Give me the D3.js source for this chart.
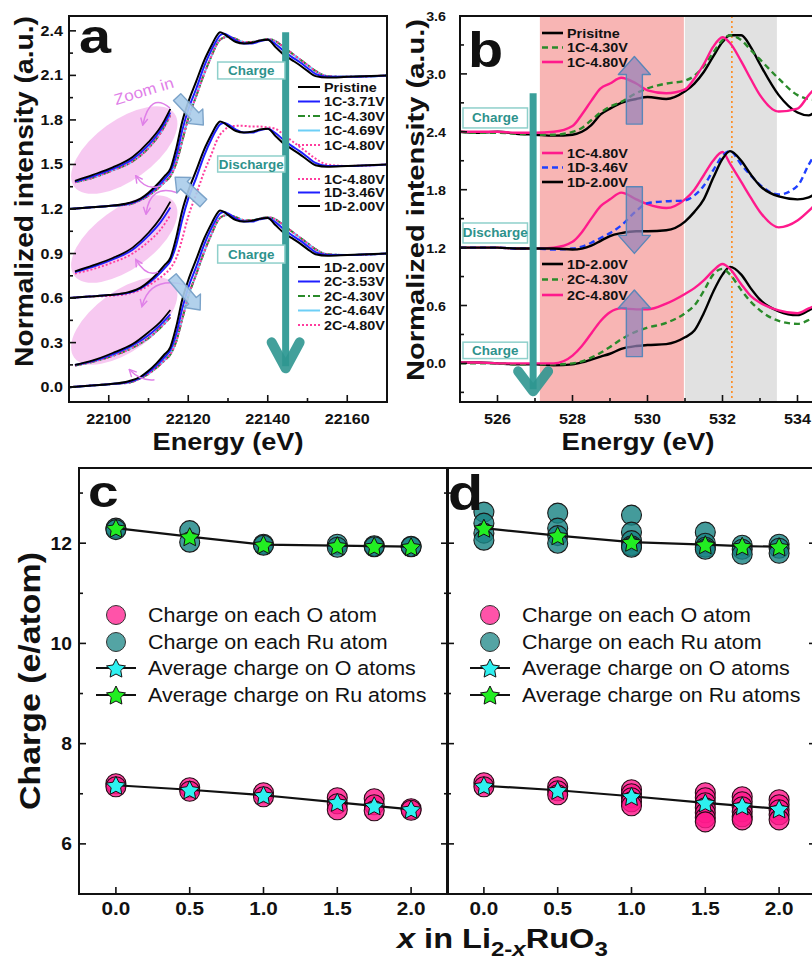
<!DOCTYPE html>
<html lang="en">
<head>
<meta charset="UTF-8">
<title>XANES spectra and Bader charges</title>
<script src="https://d3js.org/d3.v7.min.js"></script>
<style>
  body { margin: 0; background: #fff; }
  svg { display: block; }
</style>
</head>
<body>
<svg width="812" height="962"></svg>
<script>
// ---------- panel a : Ru K-edge XANES (relative shapes, offset per group) ----------
const aE = [22090, 22095, 22100, 22105, 22108, 22110, 22112, 22114, 22115.5, 22117, 22118.5, 22120, 22122, 22124, 22126, 22127, 22128, 22129, 22130, 22132, 22134, 22136, 22138, 22140, 22142, 22144, 22146, 22148, 22150, 22152, 22155, 22160, 22170];
const aPristineShape = [0.00, 0.01, 0.02, 0.04, 0.07, 0.11, 0.16, 0.22, 0.27, 0.41, 0.59, 0.72, 0.86, 1.00, 1.11, 1.16, 1.19, 1.18, 1.16, 1.125, 1.115, 1.12, 1.135, 1.14, 1.09, 1.04, 1.005, 0.97, 0.93, 0.895, 0.885, 0.89, 0.90];
const aEarlyShape = [0.00, 0.01, 0.02, 0.035, 0.065, 0.10, 0.145, 0.20, 0.25, 0.36, 0.53, 0.67, 0.81, 0.96, 1.08, 1.13, 1.17, 1.18, 1.17, 1.135, 1.115, 1.115, 1.13, 1.14, 1.11, 1.065, 1.025, 0.99, 0.95, 0.91, 0.89, 0.89, 0.90];
const aLateShape = [0.00, 0.01, 0.02, 0.03, 0.06, 0.09, 0.13, 0.18, 0.22, 0.31, 0.46, 0.61, 0.76, 0.91, 1.04, 1.10, 1.14, 1.155, 1.16, 1.145, 1.125, 1.125, 1.135, 1.145, 1.13, 1.09, 1.05, 1.01, 0.97, 0.93, 0.895, 0.89, 0.90];
const aDischargeLateShape = [0.00, 0.01, 0.015, 0.03, 0.055, 0.085, 0.12, 0.16, 0.20, 0.27, 0.40, 0.55, 0.70, 0.85, 0.98, 1.05, 1.10, 1.13, 1.15, 1.16, 1.16, 1.155, 1.155, 1.15, 1.14, 1.10, 1.06, 1.02, 0.98, 0.94, 0.90, 0.89, 0.90];
const aGroupOffset = [1.2, 0.6, 0];
const aLegendCharge1 = ["Pristine", "1C-3.71V", "1C-4.30V", "1C-4.69V", "1C-4.80V"];
const aLegendDischarge1 = ["1C-4.80V", "1D-3.46V", "1D-2.00V"];
const aLegendCharge2 = ["1D-2.00V", "2C-3.53V", "2C-4.30V", "2C-4.64V", "2C-4.80V"];

// zoomed pre-edge insets (absolute values)
const aInsetE = [22091.5, 22096, 22101, 22106, 22110, 22113, 22115.5];
const aInset1Black = [1.39, 1.43, 1.48, 1.55, 1.65, 1.75, 1.875];
const aInset1Blue = [1.385, 1.42, 1.47, 1.535, 1.63, 1.73, 1.85];
const aInset1Late = [1.38, 1.41, 1.46, 1.52, 1.61, 1.71, 1.83];
const aInset2Black = [0.78, 0.82, 0.87, 0.94, 1.04, 1.14, 1.25];
const aInset2Blue = [0.775, 0.81, 0.86, 0.925, 1.02, 1.11, 1.21];
const aInset2Late = [0.765, 0.795, 0.84, 0.90, 0.98, 1.06, 1.16];
const aInset3Black = [0.15, 0.18, 0.23, 0.29, 0.37, 0.44, 0.52];
const aInset3Blue = [0.15, 0.175, 0.22, 0.28, 0.35, 0.42, 0.49];
const aInset3Late = [0.145, 0.17, 0.21, 0.265, 0.33, 0.40, 0.47];

const aXTicks = [22100, 22120, 22140, 22160];
const aXMinor = [22090, 22110, 22130, 22150, 22170];
const aYTicks = [0, 0.3, 0.6, 0.9, 1.2, 1.5, 1.8, 2.1, 2.4];
const aYMinor = [0.15, 0.45, 0.75, 1.05, 1.35, 1.65, 1.95, 2.25];

// ---------- panel b : O K-edge ----------
const bE = [525, 525.5, 526, 526.5, 527, 527.5, 528, 528.25, 528.5, 528.75, 529, 529.3, 529.7, 530, 530.5, 531, 531.25, 531.5, 531.75, 532, 532.2, 532.5, 532.75, 533, 533.5, 534, 534.3, 534.6, 535, 535.5];
const bPristine = [2.40, 2.39, 2.40, 2.38, 2.37, 2.36, 2.37, 2.40, 2.47, 2.58, 2.64, 2.70, 2.74, 2.76, 2.74, 2.82, 2.90, 3.02, 3.18, 3.33, 3.40, 3.40, 3.28, 3.10, 2.78, 2.60, 2.57, 2.66, 2.80, 2.95];
const bC1430 = [2.40, 2.39, 2.39, 2.38, 2.37, 2.37, 2.40, 2.44, 2.52, 2.60, 2.66, 2.71, 2.80, 2.85, 2.90, 2.93, 2.98, 3.08, 3.22, 3.35, 3.40, 3.35, 3.25, 3.15, 2.95, 2.78, 2.74, 2.73, 2.76, 2.80];
const bC1480 = [2.40, 2.40, 2.40, 2.39, 2.39, 2.40, 2.46, 2.58, 2.72, 2.85, 2.90, 2.96, 2.90, 2.83, 2.80, 2.84, 2.95, 3.10, 3.28, 3.38, 3.32, 3.13, 2.95, 2.78, 2.61, 2.64, 2.78, 2.90, 3.00, 3.10];
const bD1480 = [1.20, 1.20, 1.20, 1.19, 1.19, 1.20, 1.26, 1.36, 1.50, 1.63, 1.70, 1.77, 1.70, 1.65, 1.61, 1.70, 1.80, 1.95, 2.10, 2.19, 2.07, 1.88, 1.72, 1.57, 1.41, 1.48, 1.58, 1.70, 1.82, 1.92];
const bD1346 = [1.20, 1.20, 1.20, 1.19, 1.19, 1.18, 1.19, 1.21, 1.25, 1.30, 1.35, 1.43, 1.58, 1.66, 1.68, 1.69, 1.74, 1.84, 2.00, 2.15, 2.20, 2.06, 1.95, 1.85, 1.75, 1.84, 2.06, 2.25, 2.45, 2.60];
const bD1200 = [1.20, 1.20, 1.20, 1.19, 1.19, 1.19, 1.18, 1.19, 1.22, 1.27, 1.32, 1.35, 1.37, 1.37, 1.38, 1.47, 1.57, 1.70, 1.92, 2.12, 2.20, 2.10, 1.96, 1.84, 1.73, 1.70, 1.72, 1.80, 1.92, 2.05];
const bC2200 = [0.01, 0.01, 0.00, -0.01, -0.01, -0.02, -0.01, 0.01, 0.04, 0.07, 0.10, 0.15, 0.18, 0.19, 0.20, 0.27, 0.34, 0.52, 0.74, 0.92, 1.00, 0.92, 0.78, 0.66, 0.54, 0.50, 0.55, 0.62, 0.70, 0.80];
const bC2430 = [0.00, 0.00, 0.00, -0.01, -0.01, -0.01, 0.00, 0.02, 0.06, 0.11, 0.17, 0.25, 0.33, 0.37, 0.42, 0.52, 0.60, 0.75, 0.92, 0.98, 0.92, 0.76, 0.64, 0.55, 0.44, 0.41, 0.45, 0.52, 0.60, 0.70];
const bC2480 = [0.01, 0.01, 0.00, 0.00, 0.00, 0.00, 0.08, 0.18, 0.31, 0.44, 0.53, 0.57, 0.56, 0.56, 0.62, 0.72, 0.78, 0.86, 0.96, 1.03, 0.98, 0.82, 0.70, 0.63, 0.55, 0.52, 0.57, 0.62, 0.70, 0.80];
const bLegend1 = ["Prisitne", "1C-4.30V", "1C-4.80V"];
const bLegend2 = ["1C-4.80V", "1D-3.46V", "1D-2.00V"];
const bLegend3 = ["1D-2.00V", "2C-4.30V", "2C-4.80V"];
const bPinkBand = [527.13, 530.97];
const bGreyBand = [530.97, 533.45];
const bPeakLine = 532.25;

const bXTicks = [526, 528, 530, 532, 534];
const bXMinor = [525, 527, 529, 531, 533, 535];
const bYTicks = [0, 0.6, 1.2, 1.8, 2.4, 3.0, 3.6];
const bYMinor = [-0.3, 0.3, 0.9, 1.5, 2.1, 2.7, 3.3];

// ---------- panels c, d : Bader charges ----------
const cX = [0, 0.5, 1.0, 1.5, 1.75, 2.0];
const cRuAvg = [12.30, 12.13, 11.97, 11.95, 11.94, 11.93];
const cOAvg = [7.17, 7.08, 6.97, 6.83, 6.76, 6.69];
const cRuEach = [[12.30, 12.27], [12.25, 12.02], [11.98, 11.96], [11.98, 11.92], [11.95, 11.93], [11.94, 11.93]];
const cOEach = [[7.20, 7.14], [7.12, 7.05], [7.02, 6.94], [6.92, 6.80, 6.68], [6.90, 6.78, 6.66], [6.70, 6.67]];

const dRuAvg = [12.30, 12.15, 12.02, 11.97, 11.94, 11.93];
const dOAvg = [7.16, 7.07, 6.95, 6.82, 6.76, 6.70];
const dRuEach = [[12.62, 12.40, 12.20, 12.06], [12.60, 12.30, 12.15, 12.00], [12.56, 12.22, 12.05, 11.95, 11.92], [12.22, 12.00, 11.92, 11.88], [11.96, 11.88, 11.78], [11.98, 11.90, 11.80]];
const dOEach = [[7.22, 7.14], [7.14, 7.06, 6.98], [7.08, 7.00, 6.92, 6.84, 6.76], [7.02, 6.92, 6.82, 6.72, 6.62, 6.52, 6.44], [6.94, 6.84, 6.74, 6.64, 6.54, 6.48], [6.88, 6.78, 6.68, 6.58, 6.48]];
const chargeLegend = ["Charge on each O atom", "Charge on each Ru atom", "Average charge on O atoms", "Average charge on Ru atoms"];

const cXTicks = [0, 0.5, 1.0, 1.5, 2.0];
const cYTicks = [6, 8, 10, 12];
const cYMinor = [7, 9, 11, 13];

// ---------- drawing ----------
const svg = d3.select("svg")
  .attr("font-family", '"Liberation Sans", Arial, Helvetica, sans-serif');
svg.append("rect").attr("width", 812).attr("height", 962).attr("fill", "#fff");

const TEAL = "#3a9f9a";

function label(g, x, y, s, o = {}) {
  const holder = g.append("g")
    .attr("transform", `translate(${x},${y})` + (o.rot ? ` rotate(${o.rot})` : ""));
  const t = holder.append("text")
    .attr("text-anchor", o.anchor || "start")
    .attr("font-size", o.size || 14)
    .attr("font-weight", o.weight || "bold")
    .attr("fill", o.fill || "#111")
    .text(s);
  let sx = o.sx || 1.15;
  if (o.len) sx = o.len / t.node().getComputedTextLength();
  t.attr("transform", `scale(${sx},1)`);
  return t;
}

function tickLines(g, vals, scale, axis, at, len) {
  g.append("g").selectAll("line").data(vals).join("line")
    .attr("x1", d => axis === "x" ? scale(d) : at)
    .attr("x2", d => axis === "x" ? scale(d) : at + len)
    .attr("y1", d => axis === "x" ? at : scale(d))
    .attr("y2", d => axis === "x" ? at - len : scale(d))
    .attr("stroke", "#111").attr("stroke-width", 1.6);
}

function blockArrow(g, p0, p1, sw, hw, hl, fill, stroke) {
  const dx = p1[0] - p0[0], dy = p1[1] - p0[1], L = Math.hypot(dx, dy);
  const ux = dx / L, uy = dy / L, nx = -uy, ny = ux;
  const bx = p1[0] - ux * hl, by = p1[1] - uy * hl;
  const pts = [
    [p0[0] + nx * sw / 2, p0[1] + ny * sw / 2],
    [bx + nx * sw / 2, by + ny * sw / 2],
    [bx + nx * hw / 2, by + ny * hw / 2],
    p1,
    [bx - nx * hw / 2, by - ny * hw / 2],
    [bx - nx * sw / 2, by - ny * sw / 2],
    [p0[0] - nx * sw / 2, p0[1] - ny * sw / 2]
  ];
  g.append("polygon").attr("points", pts.map(p => p.join(",")).join(" "))
    .attr("fill", fill).attr("stroke", stroke).attr("stroke-width", 1.4)
    .attr("stroke-linejoin", "round");
}

function tealArrow(g, x, yTop, yTip, hw, hh) {
  g.append("line").attr("x1", x).attr("x2", x).attr("y1", yTop).attr("y2", yTip - 6)
    .attr("stroke", TEAL).attr("stroke-width", 7);
  g.append("polyline")
    .attr("points", `${x - hw},${yTip - hh} ${x},${yTip - 4} ${x + hw},${yTip - hh}`)
    .attr("fill", "none").attr("stroke", "#2f9690").attr("stroke-width", 10)
    .attr("stroke-linejoin", "round").attr("stroke-linecap", "round").attr("opacity", 0.9);
}

function stateBox(g, x0, x1, y0, y1, s) {
  g.append("rect").attr("x", x0).attr("y", y0).attr("width", x1 - x0).attr("height", y1 - y0)
    .attr("fill", "#fff").attr("stroke", "#8fd0cb").attr("stroke-width", 1.5);
  label(g, (x0 + x1) / 2, (y0 + y1) / 2 + 4.5, s, { anchor: "middle", size: 12, fill: "#2e928c", sx: 1.12 });
}

const defs = svg.append("defs");
defs.append("clipPath").attr("id", "clipA").append("rect")
  .attr("x", 69).attr("y", 16).attr("width", 318).attr("height", 386);
defs.append("clipPath").attr("id", "clipB").append("rect")
  .attr("x", 460).attr("y", 16).attr("width", 400).attr("height", 386);
defs.append("marker").attr("id", "vio").attr("viewBox", "0 0 10 10")
  .attr("refX", 8).attr("refY", 5).attr("markerWidth", 6).attr("markerHeight", 6)
  .attr("orient", "auto")
  .append("path").attr("d", "M1,1 L9,5 L1,9").attr("fill", "none")
  .attr("stroke", "#df80e8").attr("stroke-width", 1.6);

// ================= panel a =================
const xA = d3.scaleLinear().domain([22090, 22170]).range([69, 387]);
const yA = d3.scaleLinear().domain([-0.1, 2.5]).range([402, 16]);
const gA = svg.append("g");
const plotA = gA.append("g").attr("clip-path", "url(#clipA)");

const aStyles = {
  black: { color: "#000000", dash: null },
  blue: { color: "#1f1fff", dash: null },
  green: { color: "#2a8a2a", dash: "7,3,2,3" },
  cyan: { color: "#6dcff6", dash: null },
  pink: { color: "#ff3d9e", dash: "2,2" }
};
const aGroups = [
  { offset: aGroupOffset[0], names: aLegendCharge1,
    shapes: [aPristineShape, aEarlyShape, aLateShape, aLateShape, aLateShape],
    insets: [aInset1Black, aInset1Blue, aInset1Late, aInset1Late, aInset1Late],
    styles: ["black", "blue", "green", "cyan", "pink"], order: [3, 2, 4, 1, 0],
    legendY: 87, step: 14.5, ellipse: [22103.9, 1.597] },
  { offset: aGroupOffset[1], names: aLegendDischarge1,
    shapes: [aDischargeLateShape, aEarlyShape, aPristineShape],
    insets: [aInset2Late, aInset2Blue, aInset2Black],
    styles: ["pink", "blue", "black"], order: [0, 1, 2],
    legendY: 179, step: 13.5, ellipse: [22103.9, 0.998] },
  { offset: aGroupOffset[2], names: aLegendCharge2,
    shapes: [aPristineShape, aEarlyShape, aLateShape, aLateShape, aLateShape],
    insets: [aInset3Black, aInset3Blue, aInset3Late, aInset3Late, aInset3Late],
    styles: ["black", "blue", "green", "cyan", "pink"], order: [3, 2, 4, 1, 0],
    legendY: 267, step: 14.5, ellipse: [22103.9, 0.446] }
];

// pink zoom ellipses
aGroups.forEach(gr => {
  plotA.append("ellipse")
    .attr("cx", 0).attr("cy", 0).attr("rx", 62).attr("ry", 30)
    .attr("transform", `translate(${xA(gr.ellipse[0])},${yA(gr.ellipse[1])}) rotate(-36)`)
    .attr("fill", "#f6c3ef").attr("opacity", 0.9);
});

const lineA = d3.line().curve(d3.curveMonotoneX);
aGroups.forEach(gr => {
  gr.order.forEach(i => {
    const st = aStyles[gr.styles[i]];
    plotA.append("path")
      .attr("d", lineA(aE.map((e, k) => [xA(e), yA(gr.offset + gr.shapes[i][k])])))
      .attr("fill", "none").attr("stroke", st.color).attr("stroke-width", 2)
      .attr("stroke-dasharray", st.dash);
    plotA.append("path")
      .attr("d", lineA(aInsetE.map((e, k) => [xA(e), yA(gr.insets[i][k])])))
      .attr("fill", "none").attr("stroke", st.color).attr("stroke-width", 1.8)
      .attr("stroke-dasharray", st.dash);
  });
});

// "zoom in" arcs
const aZoomArcs = [
  [[22115.4, 1.88], [22110.4, 1.99], [22108.6, 1.77]],
  [[22112.9, 1.355], [22109.5, 1.32], [22106.9, 1.42]],
  [[22117.2, 1.31], [22110.4, 1.37], [22109.4, 1.17]],
  [[22112.4, 0.776], [22109.5, 0.74], [22106.9, 0.856]],
  [[22119.4, 0.688], [22110.4, 0.75], [22108.4, 0.547]],
  [[22111.5, 0.05], [22108.0, 0.04], [22105.3, 0.115]]
];
aZoomArcs.forEach(a => {
  const p = a.map(q => [xA(q[0]), yA(q[1])]);
  plotA.append("path").attr("d", `M${p[0]} Q${p[1]} ${p[2]}`)
    .attr("fill", "none").attr("stroke", "#df80e8").attr("stroke-width", 1.5)
    .attr("marker-end", "url(#vio)");
});
label(gA, xA(22109.2), yA(1.96), "Zoom in", { anchor: "middle", size: 15.5, weight: "normal", fill: "#df80e8", rot: -17, sx: 1.1 });

// shift arrows
const aShiftArrows = [
  [[22117.2, 1.954], [22123.8, 1.766]],
  [[22123.8, 1.24], [22116.7, 1.415]],
  [[22116.0, 0.742], [22123.0, 0.52]]
];
aShiftArrows.forEach(a => blockArrow(gA, [xA(a[0][0]), yA(a[0][1])], [xA(a[1][0]), yA(a[1][1])],
  10, 21, 12, "rgba(170,204,234,0.9)", "#7ba3c9"));

// teal process arrow and boxes
tealArrow(gA, xA(22144.5), yA(2.39), yA(0.10), 14, 30);
const aBoxes = [["Charge", 2.19, 2.076], ["Discharge", 1.557, 1.449], ["Charge", 0.957, 0.836]];
aBoxes.forEach(b => stateBox(gA, xA(22127.4), xA(22144.3), yA(b[1]), yA(b[2]), b[0]));

// legends a
aGroups.forEach(gr => {
  gr.names.forEach((n, i) => {
    const y = gr.legendY + i * gr.step, st = aStyles[gr.styles[i]];
    gA.append("line").attr("x1", 298).attr("x2", 320).attr("y1", y).attr("y2", y)
      .attr("stroke", st.color).attr("stroke-width", 2).attr("stroke-dasharray", st.dash);
    label(gA, 324, y + 4.5, n, { size: 12.5 });
  });
});

// frame & axes a
gA.append("rect").attr("x", 69).attr("y", 16).attr("width", 318).attr("height", 386)
  .attr("fill", "none").attr("stroke", "#111").attr("stroke-width", 2);
tickLines(gA, aYTicks, yA, "y", 69, 7);
tickLines(gA, aYMinor, yA, "y", 69, 4);
tickLines(gA, aXTicks, xA, "x", 402, 7);
tickLines(gA, aXMinor, xA, "x", 402, 4);
aYTicks.forEach(v => label(gA, 63, yA(v) + 5, d3.format(".1f")(v), { anchor: "end", size: 14 }));
aXTicks.forEach(v => label(gA, xA(v), 424, String(v), { anchor: "middle", size: 14 }));
label(gA, 228, 450, "Energy (eV)", { anchor: "middle", size: 24, len: 151 });
label(gA, 33, 191.5, "Normalized  intensity (a.u.)", { anchor: "middle", size: 26, rot: -90, len: 351 });
label(gA, 79, 53, "a", { size: 48, sx: 1.2 });

// ================= panel b =================
const xB = d3.scaleLinear().domain([525, 535.5]).range([460, 853.75]);
const yB = d3.scaleLinear().domain([-0.4, 3.6]).range([402, 16]);
const gB = svg.append("g");
const plotB = gB.append("g").attr("clip-path", "url(#clipB)");

plotB.append("rect").attr("x", xB(bPinkBand[0])).attr("y", 16)
  .attr("width", xB(bPinkBand[1]) - xB(bPinkBand[0])).attr("height", 386).attr("fill", "#f8b5b4");
plotB.append("rect").attr("x", xB(bGreyBand[0]) + 1).attr("y", 16)
  .attr("width", xB(bGreyBand[1]) - xB(bGreyBand[0]) - 1).attr("height", 386).attr("fill", "#e1e1e1");
plotB.append("line").attr("x1", xB(bPeakLine)).attr("x2", xB(bPeakLine)).attr("y1", 16).attr("y2", 402)
  .attr("stroke", "#ff8a1c").attr("stroke-width", 1.6).attr("stroke-dasharray", "2,3");

const bStyles = {
  black: { color: "#000000", dash: null },
  green: { color: "#2a8a2a", dash: "6,4" },
  pink: { color: "#ff1a8c", dash: null },
  blue: { color: "#1f3fff", dash: "6,4" }
};
const bGroups = [
  { names: bLegend1, curves: [bPristine, bC1430, bC1480], styles: ["black", "green", "pink"], legendY: 33, step: 14.5 },
  { names: bLegend2, curves: [bD1480, bD1346, bD1200], styles: ["pink", "blue", "black"], legendY: 153, step: 14.5 },
  { names: bLegend3, curves: [bC2200, bC2430, bC2480], styles: ["black", "green", "pink"], legendY: 264, step: 15.5 }
];
const lineB = d3.line().curve(d3.curveMonotoneX);
bGroups.forEach(gr => {
  gr.curves.forEach((c, i) => {
    const st = bStyles[gr.styles[i]];
    plotB.append("path").attr("d", lineB(bE.map((e, k) => [xB(e), yB(c[k])])))
      .attr("fill", "none").attr("stroke", st.color).attr("stroke-width", 2.4)
      .attr("stroke-dasharray", st.dash);
  });
});

// intensity-change arrows
const bArrows = [[2.48, 3.18], [1.83, 1.14], [0.07, 0.76]];
bArrows.forEach(a => blockArrow(gB, [xB(529.65), yB(a[0])], [xB(529.65), yB(a[1])],
  16, 32, 18, "rgba(150,130,185,0.72)", "#5a86b8"));

tealArrow(gB, xB(526.95), yB(2.80), yB(-0.33), 15, 24);
const bBoxes = [["Charge", 2.647, 2.44], ["Discharge", 1.455, 1.248], ["Charge", 0.22, 0.05]];
bBoxes.forEach(b => stateBox(gB, xB(525.08), xB(526.8), yB(b[1]), yB(b[2]), b[0]));

bGroups.forEach(gr => {
  gr.names.forEach((n, i) => {
    const y = gr.legendY + i * gr.step, st = bStyles[gr.styles[i]];
    gB.append("line").attr("x1", 542).attr("x2", 563).attr("y1", y).attr("y2", y)
      .attr("stroke", st.color).attr("stroke-width", 2.6).attr("stroke-dasharray", st.dash);
    label(gB, 567, y + 4.5, n, { size: 12.5 });
  });
});

gB.append("rect").attr("x", 460).attr("y", 16).attr("width", 400).attr("height", 386)
  .attr("fill", "none").attr("stroke", "#111").attr("stroke-width", 2);
tickLines(gB, bYTicks, yB, "y", 460, 7);
tickLines(gB, bYMinor, yB, "y", 460, 4);
tickLines(gB, bXTicks, xB, "x", 402, 7);
tickLines(gB, bXMinor, xB, "x", 402, 4);
bYTicks.forEach(v => label(gB, 446, yB(v) + 5, d3.format(".1f")(v), { anchor: "end", size: 13, sx: 1.1 }));
bXTicks.forEach(v => label(gB, xB(v), 424, String(v), { anchor: "middle", size: 14 }));
label(gB, 638, 450, "Energy (eV)", { anchor: "middle", size: 24, len: 153 });
label(gB, 424, 200, "Normalized  intensity (a.u.)", { anchor: "middle", size: 24, rot: -90, len: 362 });
label(gB, 468, 67, "b", { size: 50, sx: 1.15 });

// ================= panels c & d =================
const yC = d3.scaleLinear().domain([5, 13.5]).range([894, 468]);
const xC = d3.scaleLinear().domain([-0.25, 2.25]).range([79, 448]);
const xD = d3.scaleLinear().domain([-0.25, 2.25]).range([447, 816]);
const O_FILL = "#ff1a8c", RU_FILL = "#1b8585";
// five-pointed star with a fat body, as in the original markers
const fatStar = {
  draw(ctx, size) {
    const R = Math.sqrt(size), r = R * 0.5;
    for (let i = 0; i < 10; i++) {
      const a = -Math.PI / 2 + i * Math.PI / 5, rad = i % 2 ? r : R;
      if (i === 0) ctx.moveTo(rad * Math.cos(a), rad * Math.sin(a));
      else ctx.lineTo(rad * Math.cos(a), rad * Math.sin(a));
    }
    ctx.closePath();
  }
};
const starSym = d3.symbol().type(fatStar).size(100);

function chargePanel(xs, ruEach, oEach, ruAvg, oAvg, legX) {
  const g = svg.append("g");
  const pts = (arr) => arr.flatMap((list, i) => list.map(v => [cX[i], v]));
  g.append("g").selectAll("circle").data(pts(ruEach)).join("circle")
    .attr("cx", d => xs(d[0])).attr("cy", d => yC(d[1])).attr("r", 10)
    .attr("fill", RU_FILL).attr("fill-opacity", 0.82).attr("stroke", "#1a1a1a").attr("stroke-width", 1.1);
  g.append("g").selectAll("circle").data(pts(oEach)).join("circle")
    .attr("cx", d => xs(d[0])).attr("cy", d => yC(d[1])).attr("r", 10)
    .attr("fill", O_FILL).attr("fill-opacity", 0.82).attr("stroke", "#2a0a18").attr("stroke-width", 1.1);
  const ln = d3.line();
  [[ruAvg, "#22ee22"], [oAvg, "#2ef0f0"]].forEach(([avg, col]) => {
    g.append("path").attr("d", ln(cX.map((x, i) => [xs(x), yC(avg[i])])))
      .attr("fill", "none").attr("stroke", "#111").attr("stroke-width", 2.2);
    g.append("g").selectAll("path").data(cX).join("path")
      .attr("d", starSym)
      .attr("transform", (x, i) => `translate(${xs(x)},${yC(avg[i]) + 1})`)
      .attr("fill", col).attr("stroke", "#111").attr("stroke-width", 1);
  });
  // legend
  const rows = [615, 642, 668, 695];
  g.append("circle").attr("cx", legX).attr("cy", rows[0]).attr("r", 9.5)
    .attr("fill", O_FILL).attr("fill-opacity", 0.75).attr("stroke", "#333").attr("stroke-width", 1);
  g.append("circle").attr("cx", legX).attr("cy", rows[1]).attr("r", 9.5)
    .attr("fill", RU_FILL).attr("fill-opacity", 0.75).attr("stroke", "#333").attr("stroke-width", 1);
  [[rows[2], "#2ef0f0"], [rows[3], "#22ee22"]].forEach(([y, col]) => {
    g.append("line").attr("x1", legX - 20).attr("x2", legX + 20).attr("y1", y).attr("y2", y)
      .attr("stroke", "#111").attr("stroke-width", 2);
    g.append("path").attr("d", starSym).attr("transform", `translate(${legX},${y + 1})`)
      .attr("fill", col).attr("stroke", "#111").attr("stroke-width", 1);
  });
  chargeLegend.forEach((s, i) => label(g, legX + 32, rows[i] + 7, s, { size: 19.5, weight: "normal", sx: 1.1 }));
  return g;
}

const gC = chargePanel(xC, cRuEach, cOEach, cRuAvg, cOAvg, 116);
const gD = chargePanel(xD, dRuEach, dOEach, dRuAvg, dOAvg, 490);

[[gC, xC, 79, 448], [gD, xD, 447, 816]].forEach(([g, xs, x0, x1]) => {
  g.append("rect").attr("x", x0).attr("y", 468).attr("width", x1 - x0).attr("height", 426)
    .attr("fill", "none").attr("stroke", "#111").attr("stroke-width", 2);
  tickLines(g, cYTicks, yC, "y", x0, 7);
  tickLines(g, cYMinor, yC, "y", x0, 4);
  tickLines(g, cYTicks, yC, "y", x1, -7);
  tickLines(g, cYMinor, yC, "y", x1, -4);
  tickLines(g, cXTicks, xs, "x", 894, 7);
  cXTicks.forEach(v => label(g, xs(v), 915, d3.format(".1f")(v), { anchor: "middle", size: 18 }));
});
cYTicks.forEach(v => label(gC, 72, yC(v) + 6.5, String(v), { anchor: "end", size: 17.5, sx: 1.1 }));
label(gC, 40, 681, "Charge (e/atom)", { anchor: "middle", size: 30, rot: -90, len: 258 });
label(gC, 88, 507, "c", { size: 44, sx: 1.25 });
label(gD, 448, 510, "d", { size: 50, sx: 1.15 });

// x-axis title with subscripts
const xt = svg.append("text").attr("x", 397).attr("y", 948)
  .attr("font-size", 27).attr("font-weight", "bold").attr("fill", "#111");
xt.append("tspan").attr("font-style", "italic").text("x");
xt.append("tspan").text(" in Li");
xt.append("tspan").attr("font-size", 20).attr("dy", 8).text("2-");
xt.append("tspan").attr("font-size", 20).attr("font-style", "italic").text("x");
xt.append("tspan").attr("dy", -8).text("RuO");
xt.append("tspan").attr("font-size", 20).attr("dy", 8).text("3");
const xtw = xt.node().getComputedTextLength();
xt.attr("transform", `translate(397,0) scale(${211 / xtw},1) translate(-397,0)`);
</script>
</body>
</html>
